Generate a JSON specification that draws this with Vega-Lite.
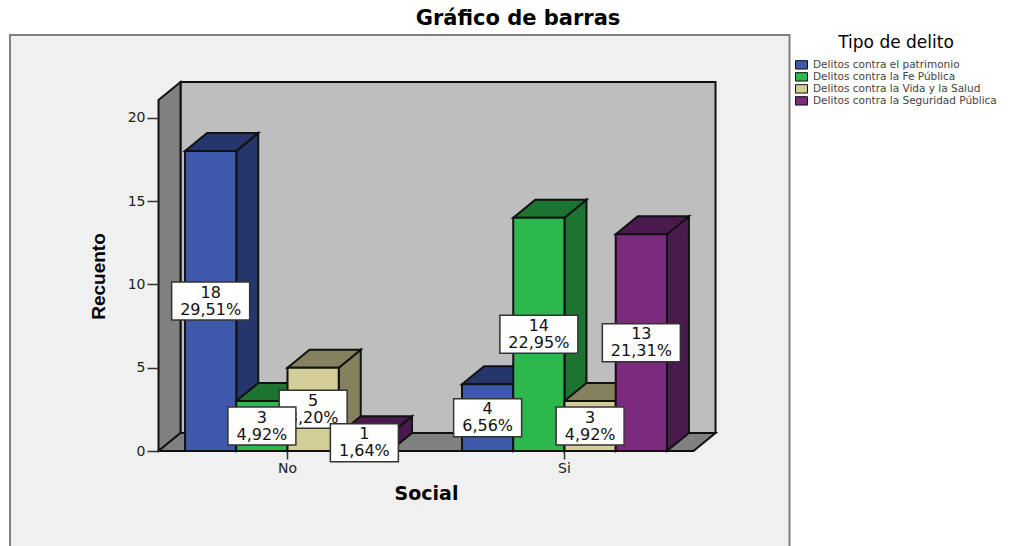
{
"$schema":"https://vega.github.io/schema/vega-lite/v6.json",
"autosize":"none",
"padding":{"left":159,"top":101,"right":318,"bottom":95},
"width":534,"height":350,
"background":"white",
"title":{"text":"Gráfico de barras","font":"DejaVu Sans","fontSize":21,"fontWeight":"bold","color":"black","dx":92,"offset":2,"anchor":"middle"},
"data":{"values":[
{"social":"No","tipo":"Delitos contra el patrimonio","count":18,"pct":"29,51%"},
{"social":"No","tipo":"Delitos contra la Fe Pública","count":3,"pct":"4,92%"},
{"social":"No","tipo":"Delitos contra la Vida y la Salud","count":5,"pct":"8,20%"},
{"social":"No","tipo":"Delitos contra la Seguridad Pública","count":1,"pct":"1,64%"},
{"social":"Si","tipo":"Delitos contra el patrimonio","count":4,"pct":"6,56%"},
{"social":"Si","tipo":"Delitos contra la Fe Pública","count":14,"pct":"22,95%"},
{"social":"Si","tipo":"Delitos contra la Vida y la Salud","count":3,"pct":"4,92%"},
{"social":"Si","tipo":"Delitos contra la Seguridad Pública","count":13,"pct":"21,31%"}
]},
"resolve":{"scale":{"y":"independent"},"axis":{"x":"independent","y":"independent"}},
"layer":[
{"data":{"values":[{"pieza":"fondo"}]},
 "encoding":{
  "x":{"datum":"No","type":"nominal","scale":{"domain":["No","Si"],"paddingInner":0.26,"paddingOuter":0.094},"axis":null},
  "y":{"datum":0,"type":"quantitative","scale":{"domain":[0,21]},"axis":null}},
 "layer":[
  {"mark":{"type":"point","filled":true,"opacity":1,"size":4,"fill":"#f0f0f0","stroke":"#808080","strokeWidth":2,"shape":"M-277.5,-416H502V120H-277.5Z"}},
  {"mark":{"type":"point","filled":true,"opacity":1,"size":4,"fill":"#bebebe","stroke":"#111111","strokeWidth":2,"shape":"M-107,-369H428V-18H-107Z"}},
  {"mark":{"type":"point","filled":true,"opacity":1,"size":4,"fill":"#808080","stroke":"#111111","strokeWidth":2,"shape":"M-129,0V-351L-107,-369V-18Z"}},
  {"mark":{"type":"point","filled":true,"opacity":1,"size":4,"fill":"#808080","stroke":"#111111","strokeWidth":2,"shape":"M-129,0L-107,-18H428L406,0Z"}}
 ]},
{"encoding":{
  "x":{"field":"social","type":"nominal","sort":null,"scale":{"domain":["No","Si"],"paddingInner":0.26,"paddingOuter":0.094},"axis":null},
  "xOffset":{"field":"tipo","type":"nominal","sort":null,"scale":{"domain":["Delitos contra el patrimonio","Delitos contra la Fe Pública","Delitos contra la Vida y la Salud","Delitos contra la Seguridad Pública"],"paddingInner":0,"paddingOuter":0}},
  "y":{"field":"count","type":"quantitative","stack":null,"scale":{"domain":[0,21],"nice":false},"axis":null}},
 "layer":[
  {"mark":{"type":"point","filled":true,"opacity":1,"size":4,"stroke":"#111111","strokeWidth":2},
   "encoding":{"y":{"datum":0,"type":"quantitative"},
    "shape":{"field":"count","type":"nominal","legend":null,"scale":{"domain":[1,3,4,5,13,14,18],"range":[
     "M25.6,0L47.6,-18V-34.67L25.6,-16.67Z",
     "M25.6,0L47.6,-18V-68L25.6,-50Z",
     "M25.6,0L47.6,-18V-84.67L25.6,-66.67Z",
     "M25.6,0L47.6,-18V-101.33L25.6,-83.33Z",
     "M25.6,0L47.6,-18V-234.67L25.6,-216.67Z",
     "M25.6,0L47.6,-18V-251.33L25.6,-233.33Z",
     "M25.6,0L47.6,-18V-318L25.6,-300Z"]}},
    "fill":{"field":"tipo","type":"nominal","legend":null,"scale":{"domain":["Delitos contra la Seguridad Pública","Delitos contra la Vida y la Salud","Delitos contra la Fe Pública","Delitos contra el patrimonio"],"range":["#4a1a4e","#85815e","#1c7430","#25366c"]}}}},
  {"mark":{"type":"point","filled":true,"opacity":1,"size":4,"stroke":"#111111","strokeWidth":2,"shape":"M-25.6,0L-3.6,-18H47.6L25.6,0Z"},
   "encoding":{"fill":{"field":"tipo","type":"nominal","legend":null}}},
  {"mark":{"type":"bar","stroke":"#111111","strokeWidth":2,"opacity":1},
   "encoding":{"color":{"field":"tipo","type":"nominal","scale":{"domain":["Delitos contra el patrimonio","Delitos contra la Fe Pública","Delitos contra la Vida y la Salud","Delitos contra la Seguridad Pública"],"range":["#3e58ac","#2db84d","#d3ce97","#7b2a7e"]},
    "legend":{"orient":"none","legendX":636,"legendY":-66,"title":"Tipo de delito","titleFont":"DejaVu Sans","titleFontSize":17,"titleFontWeight":"normal","titleColor":"black","titleAnchor":"middle","titlePadding":7,"labelFont":"DejaVu Sans","labelFontSize":10.5,"labelColor":"#444444","symbolType":"M-1,-0.7H1V0.7H-1Z","symbolSize":144,"symbolStrokeColor":"#111111","symbolStrokeWidth":1,"symbolOpacity":1,"rowPadding":0,"clipHeight":11.7,"labelOffset":5,"labelLimit":300}}}}
 ]},
{"encoding":{
  "x":{"field":"social","type":"nominal","sort":null,"scale":{"domain":["No","Si"],"paddingInner":0.26,"paddingOuter":0.094},"axis":null},
  "xOffset":{"field":"tipo","type":"nominal","sort":null,"scale":{"domain":["Delitos contra el patrimonio","Delitos contra la Fe Pública","Delitos contra la Vida y la Salud","Delitos contra la Seguridad Pública"],"paddingInner":0,"paddingOuter":0}},
  "y":{"field":"count","type":"quantitative","stack":null,"scale":{"domain":[0,42],"nice":false},"axis":null}},
 "layer":[
  {"transform":[{"filter":"datum.count==5"}],"mark":{"type":"point","filled":true,"opacity":1,"size":4,"fill":"white","stroke":"#333333","strokeWidth":1.5,"shape":"M-34,-19H34V19H-34Z"}},
  {"transform":[{"filter":"datum.count==5"}],"mark":{"type":"text","font":"DejaVu Sans","fontSize":16,"dy":-8.5,"color":"#111111"},"encoding":{"text":{"field":"count","type":"nominal"}}},
  {"transform":[{"filter":"datum.count==5"}],"mark":{"type":"text","font":"DejaVu Sans","fontSize":16,"dy":8.5,"color":"#111111"},"encoding":{"text":{"field":"pct","type":"nominal"}}},
  {"transform":[{"filter":"datum.count<10 && datum.count!=5"}],"mark":{"type":"point","filled":true,"opacity":1,"size":4,"fill":"white","stroke":"#333333","strokeWidth":1.5,"shape":"M-34,-19H34V19H-34Z"}},
  {"transform":[{"filter":"datum.count>=10"}],"mark":{"type":"point","filled":true,"opacity":1,"size":4,"fill":"white","stroke":"#333333","strokeWidth":1.5,"shape":"M-39,-19H39V19H-39Z"}},
  {"transform":[{"filter":"datum.count!=5"}],"mark":{"type":"text","font":"DejaVu Sans","fontSize":16,"dy":-8.5,"color":"#111111"},"encoding":{"text":{"field":"count","type":"nominal"}}},
  {"transform":[{"filter":"datum.count!=5"}],"mark":{"type":"text","font":"DejaVu Sans","fontSize":16,"dy":8.5,"color":"#111111"},"encoding":{"text":{"field":"pct","type":"nominal"}}}
 ]},
{"mark":{"type":"point","opacity":0,"size":4},
 "encoding":{
  "x":{"field":"social","type":"nominal","sort":null,"scale":{"domain":["No","Si"],"paddingInner":0.26,"paddingOuter":0.094},
   "axis":{"title":"Social","titleFont":"DejaVu Sans","titleFontSize":19,"titleFontWeight":"bold","titleColor":"black","titlePadding":9,"labelFont":"DejaVu Sans","labelFontSize":14,"labelColor":"#222222","labelAngle":0,"labelPadding":2,"tickSize":8,"tickColor":"#333333","tickWidth":1.5,"domain":false,"zindex":1}},
  "y":{"field":"count","type":"quantitative","stack":null,"scale":{"domain":[0,21],"nice":false},
   "axis":{"title":"Recuento","titleFont":"Liberation Sans","titleFontSize":19,"titleFontWeight":"bold","titleColor":"black","titlePadding":19,"values":[0,5,10,15,20],"grid":false,"labelFont":"DejaVu Sans","labelFontSize":14,"labelColor":"#222222","tickSize":12,"tickColor":"#333333","tickWidth":1.5,"domain":false,"zindex":1}}}}
],
"config":{"view":{"stroke":null}}
}
